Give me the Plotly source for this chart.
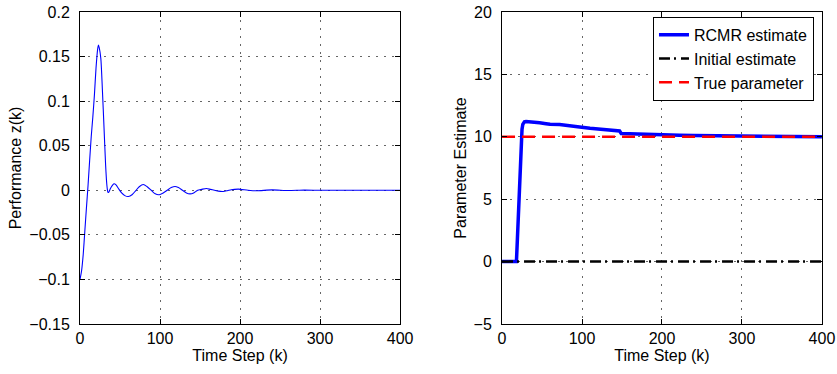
import plotly.graph_objects as go

# ---- Left panel: performance z(k) ----
k_perf = [0, 2, 4, 6, 8, 10, 12, 14, 16, 18, 20, 22, 23, 24, 26, 28, 30, 32, 33, 34, 35, 36, 38, 40, 42.5, 45, 48, 52,
          56, 60.4, 65, 70, 74, 79, 84, 89, 94, 99, 104, 109, 114, 118.75, 123, 128, 133, 137.5, 142, 147, 152, 158,
          163, 168, 173, 179, 184, 189, 193, 198, 210, 220, 240, 260, 280, 300, 330, 360, 400]
z_perf = [-0.1, -0.09, -0.072, -0.046, -0.02, 0.005, 0.033, 0.06, 0.082, 0.107, 0.137, 0.158, 0.163, 0.16, 0.148,
          0.112, 0.07, 0.028, 0.012, 0.002, -0.0025, -0.002, 0.002, 0.005, 0.0073, 0.006, 0.002, -0.003,
          -0.006, -0.007, -0.005, 0.0, 0.004, 0.0065, 0.004, 0.0, -0.004, -0.005, -0.003, 0.0, 0.003, 0.0043, 0.003,
          0.0, -0.003, -0.004, -0.003, 0.0, 0.001, 0.002, 0.001, 0.0, -0.001, -0.0013, -0.0005, 0.0005, 0.001,
          0.0013, 0.0, -0.0006, 0.0004, -0.0003, 0.0002, 0.0, 0.0, 0.0, 0.0]

# ---- Right panel: parameter estimate ----
k_est = [0, 18, 19, 21, 23, 25, 26, 28, 30, 35, 40, 47, 55, 60, 72, 80, 85, 97, 110, 122, 135, 143, 147, 149,
         160, 180, 200, 222, 240, 260, 300, 350, 400]
rcmr_est = [0, 0, 1.5, 5.0, 8.3, 10.6, 11.0, 11.2, 11.22, 11.2, 11.18, 11.12, 11.05, 11.0, 10.98, 10.9, 10.85,
            10.78, 10.68, 10.6, 10.55, 10.5, 10.46, 10.27, 10.24, 10.2, 10.16, 10.13, 10.1, 10.08, 10.05, 10.02,
            10.0]
k_ref = [0, 400]
initial_est = [0, 0]
true_param = [10, 10]

x_ticks = [0, 100, 200, 300, 400]
y1_ticks = [-0.15, -0.1, -0.05, 0, 0.05, 0.1, 0.15, 0.2]
y1_labels = ["\u22120.15", "\u22120.1", "\u22120.05", "0", "0.05", "0.1", "0.15", "0.2"]
y2_ticks = [-5, 0, 5, 10, 15, 20]
y2_labels = ["\u22125", "0", "5", "10", "15", "20"]

FONT = "Liberation Sans, Arial, Helvetica, sans-serif"
FS = 16

fig = go.Figure()
fig.add_trace(go.Scatter(x=k_perf, y=z_perf, mode="lines", line=dict(color="#0000ff", width=1.1, shape="spline",
                                                                      smoothing=0.7),
                         showlegend=False, xaxis="x", yaxis="y"))
fig.add_trace(go.Scatter(x=k_est, y=rcmr_est, mode="lines", name="RCMR estimate",
                         line=dict(color="#0000ff", width=3.5), xaxis="x2", yaxis="y2"))
fig.add_trace(go.Scatter(x=k_ref, y=initial_est, mode="lines", name="Initial estimate",
                         line=dict(color="#000000", width=2.5, dash="11px,4px,2px,5px"), xaxis="x2", yaxis="y2"))
fig.add_trace(go.Scatter(x=k_ref, y=true_param, mode="lines", name="True parameter",
                         line=dict(color="#ff0000", width=2.5, dash="13px,7px"), xaxis="x2", yaxis="y2"))

ax_common = dict(showline=True, linecolor="black", linewidth=1, mirror="ticks", ticks="inside", ticklen=5,
                 tickcolor="black", showgrid=True, gridcolor="#666666", griddash="2px,6px", gridwidth=1,
                 zeroline=False, automargin=False, tickfont=dict(family=FONT, size=FS, color="black"),
                 title_font=dict(family=FONT, size=FS, color="black"))

ydom = [0.1337, 0.968]
fig.update_layout(
    width=837, height=374,
    margin=dict(l=0, r=0, t=0, b=0),
    paper_bgcolor="white", plot_bgcolor="white",
    font=dict(family=FONT, size=FS, color="black"),
    xaxis=dict(domain=[0.0956, 0.478], range=[0, 400], tickvals=x_ticks, anchor="y",
               title=dict(text="Time Step (k)", standoff=2), **ax_common),
    yaxis=dict(domain=ydom, range=[-0.15, 0.2], tickvals=y1_ticks, ticktext=y1_labels, anchor="x",
               ticklabelstandoff=6, title=dict(text="Performance z(k)", standoff=3), **ax_common),
    xaxis2=dict(domain=[0.5998, 0.982], range=[0, 400], tickvals=x_ticks, anchor="y2",
                title=dict(text="Time Step (k)", standoff=2), **ax_common),
    yaxis2=dict(domain=ydom, range=[-5, 20], tickvals=y2_ticks, ticktext=y2_labels, anchor="x2",
                ticklabelstandoff=6, title=dict(text="Parameter Estimate", standoff=2), **ax_common),
    legend=dict(x=0.9725, y=0.955, xanchor="right", yanchor="top", bgcolor="white", bordercolor="black",
                borderwidth=1, font=dict(family=FONT, size=FS, color="black"), tracegroupgap=0,
                itemwidth=30),
    showlegend=True,
)

fig.write_html("out.html", config={"displayModeBar": False},
               post_script="document.body.style.margin='0';document.body.style.padding='0';")
